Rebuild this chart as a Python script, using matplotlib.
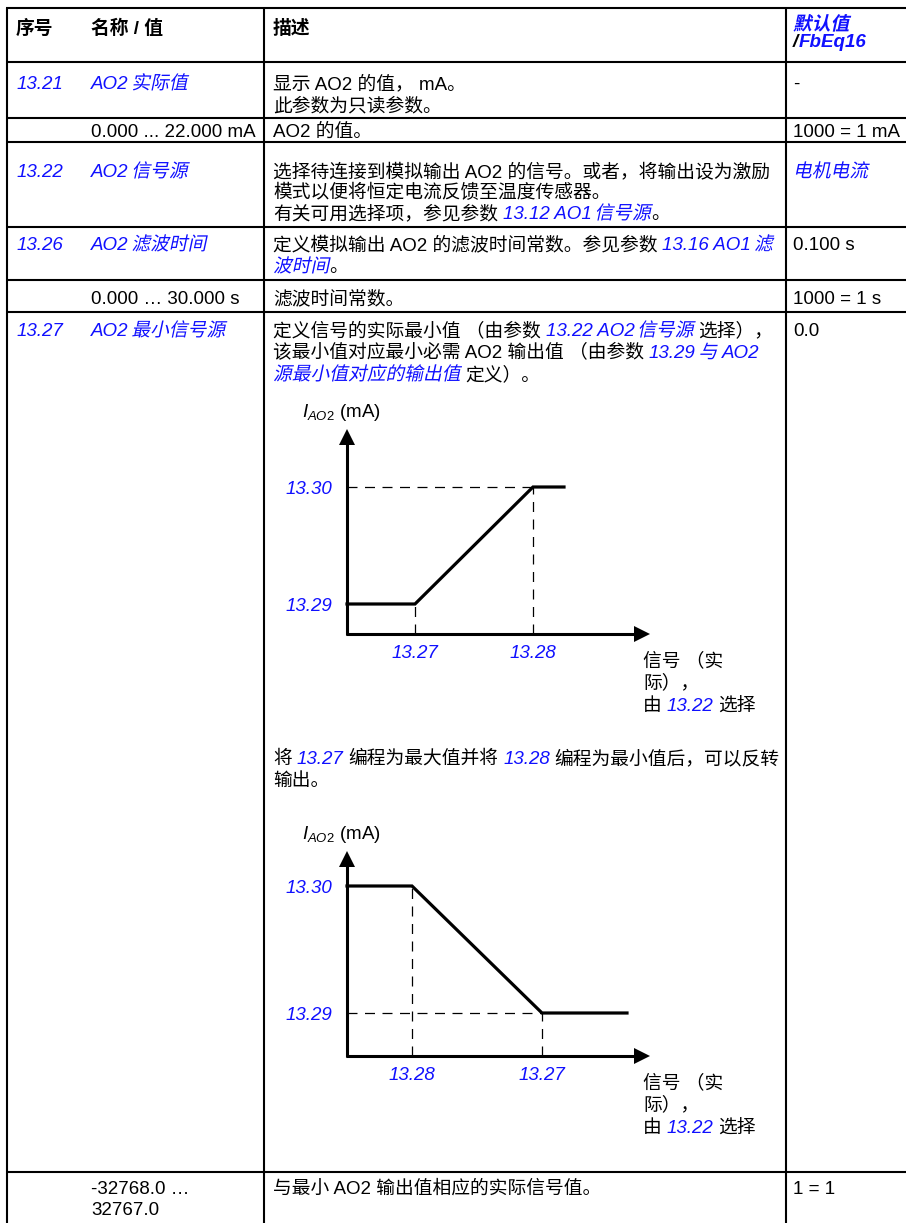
import matplotlib
matplotlib.use('Agg')
import matplotlib.pyplot as plt
import matplotlib.transforms as mtransforms
from matplotlib.textpath import TextPath
from matplotlib.patches import PathPatch
from matplotlib.font_manager import FontProperties

plt.rcParams['font.family'] = ['Liberation Sans', 'Noto Sans CJK SC']
plt.rcParams['mathtext.fontset'] = 'custom'
plt.rcParams['mathtext.rm'] = 'Liberation Sans'
plt.rcParams['mathtext.it'] = 'Liberation Sans:italic'

FS = 13.5
EM = FS * 100 / 72      # em size in px
BLUE = '#1010ff'
SPACE = 0.26 * EM      # width of one space in px

# ---- table content ----
col_headers = ['序号', '名称 / 值', '描述']
default_header = ['默认值', 'FbEq16']

row_ids = ['13.21', '', '13.22', '13.26', '', '13.27', '']
row_names = [[('AO2 实际值', 1)],
             [('0.000 ... 22.000 mA', 0)],
             [('AO2 信号源', 1)],
             [('AO2 滤波时间', 1)],
             [('0.000 … 30.000 s', 0)],
             [('AO2 最小信号源', 1)],
             [('-32768.0 …', 0), ('32767.0', 0)]]
row_defaults = [('-', 0), ('1000 = 1 mA', 0), ('电机电流', 1), ('0.100 s', 0),
                ('1000 = 1 s', 0), ('0.0', 0), ('1 = 1', 0)]
row_desc = [
    [[('显示 AO2 的值， mA。', 0)], [('此参数为只读参数。', 0)]],
    [[('AO2 的值。', 0)]],
    [[('选择待连接到模拟输出 AO2 的信号。或者，将输出设为激励', 0)],
     [('模式以便将恒定电流反馈至温度传感器。', 0)],
     [('有关可用选择项，参见参数 ', 0), ('13.12 AO1 信号源', 1), ('。', 0)]],
    [[('定义模拟输出 AO2 的滤波时间常数。参见参数 ', 0), ('13.16 AO1 滤', 1)],
     [('波时间', 1), ('。', 0)]],
    [[('滤波时间常数。', 0)]],
    [[('定义信号的实际最小值 （由参数 ', 0), ('13.22 AO2 信号源', 1), (' 选择），', 0)],
     [('该最小值对应最小必需 AO2 输出值 （由参数 ', 0), ('13.29 与 AO2', 1)],
     [('源最小值对应的输出值', 1), (' 定义）。', 0)]],
    [[('与最小 AO2 输出值相应的实际信号值。', 0)]],
]
invert_note = [[('将 ', 0), ('13.27', 1), (' 编程为最大值并将 ', 0), ('13.28', 1),
                (' 编程为最小值后，可以反转', 0)],
               [('输出。', 0)]]
axis_note = [[('信号 （实', 0)], [('际），', 0)], [('由 ', 0), ('13.22', 1), (' 选择', 0)]]

# ---- diagram data (schematic units) ----
dia1_sig = [0, 68, 186, 217]
dia1_out = [30, 30, 147, 147]
dia1_xticks = ['13.27', '13.28']
dia1_yticks = ['13.29', '13.30']
dia2_sig = [0, 65, 195, 280]
dia2_out = [170, 170, 43, 43]
dia2_xticks = ['13.28', '13.27']
dia2_yticks = ['13.30', '13.29']

# ---- layout ----
W, H = 906, 1223
fig = plt.figure(figsize=(W / 100, H / 100), dpi=100)
ax = fig.add_axes([0, 0, 1, 1])
ax.set_xlim(0, W)
ax.set_ylim(H, 0)
ax.axis('off')
renderer = fig.canvas.get_renderer()

X_ID, X_NAME, X_DESC, X_DEF = 17, 91, 273, 793
row_lines = [62, 118, 142, 227, 280, 312, 1172]
desc_centers = [[82, 104], [130], [170, 191, 212], [243, 265], [297],
                [329, 351, 373], [1187, 1208]]
BL = 7  # baseline offset below visual center


def is_cjk(c):
    return ord(c) >= 0x2E80


def cjk_italic(x, y, s, color, weight):
    # no italic CJK face installed: shear the glyph outlines instead
    prop = FontProperties(family='Noto Sans CJK SC', weight=weight)
    path = TextPath((0, 0), s, size=EM, prop=prop)
    t = mtransforms.Affine2D().skew_deg(12, 0).scale(1, -1).translate(x, y)
    ax.add_patch(PathPatch(path, facecolor=color, lw=0,
                           transform=t + ax.transData))
    return len(s) * EM


def split_script(s):
    chunks = []
    for c in s:
        k = is_cjk(c)
        if chunks and chunks[-1][1] == k:
            chunks[-1][0] += c
        else:
            chunks.append([c, k])
    return chunks


def draw_runs(x, y, parts, transform=None, size=FS, weight='normal', force_italic=False):
    tr = transform if transform is not None else ax.transData
    for txt, link in parts:
        color = BLUE if link else 'k'
        italic = bool(link or force_italic)
        pieces = split_script(txt) if (italic and transform is None) else [[txt, False]]
        for j, (body, cjk) in enumerate(pieces):
            if cjk:
                if j > 0:
                    x -= 2
                x += cjk_italic(x, y, body, color, weight)
                continue
            lead = len(body) - len(body.lstrip(' '))
            trail = len(body) - len(body.rstrip(' '))
            x += lead * SPACE
            core = body.strip(' ')
            if core:
                t = ax.text(x, y, core, fontsize=size, va='baseline', ha='left',
                            color=color, style='italic' if italic else 'normal',
                            fontweight=weight, transform=tr)
                x += t.get_window_extent(renderer=renderer).width
            x += trail * SPACE
    return x


# table frame
lw = 1.5
ax.plot([7, 7], [8, H], color='k', lw=lw, solid_capstyle='butt')
for xc in [264, 786]:
    ax.plot([xc, xc], [8, H], color='k', lw=lw, solid_capstyle='butt')
for yr in [8] + row_lines:
    ax.plot([6, W], [yr, yr], color='k', lw=lw, solid_capstyle='butt')

# header
for xh, h in zip([16, X_NAME, X_DESC], col_headers):
    ax.text(xh, 27 + BL, h, fontsize=FS, fontweight='bold', va='baseline')
draw_runs(X_DEF, 23 + BL, [(default_header[0], 1)], weight='bold')
xx = draw_runs(X_DEF, 41 + 6, [('/', 0)], weight='bold', force_italic=True)
draw_runs(xx, 41 + 6, [(default_header[1], 1)], weight='bold')

# rows
for i in range(len(row_ids)):
    cs = desc_centers[i]
    if row_ids[i]:
        draw_runs(X_ID, cs[0] + BL, [(row_ids[i], 1)])
    for k, part in enumerate(row_names[i]):
        draw_runs(X_NAME, cs[k] + BL, [part])
    draw_runs(X_DEF, cs[0] + BL, [row_defaults[i]])
    for k, line in enumerate(row_desc[i]):
        draw_runs(X_DESC, cs[k] + BL, line)

for k, line in enumerate(invert_note):
    draw_runs(X_DESC, [757, 779][k] + BL, line)


def draw_diagram(ox, oy, sig, out, xticks, yticks, dashes):
    tr = mtransforms.Affine2D().scale(1, -1).translate(ox, oy) + ax.transData
    # dashed guides
    for (xa, ya), (xb, yb) in dashes:
        ax.plot([xa, xb], [ya, yb], color='k', lw=0.9, ls=(0, (8, 6)), transform=tr)
    # axes with arrowheads
    ax.plot([0, 0], [-1, 190], color='k', lw=2.2, transform=tr, solid_capstyle='butt')
    ax.plot([-1, 288], [0, 0], color='k', lw=2.2, transform=tr, solid_capstyle='butt')
    ax.fill([-8, 8, 0], [189, 189, 205], color='k', transform=tr, lw=0)
    ax.fill([287, 287, 303], [-8, 8, 0], color='k', transform=tr, lw=0)
    # transfer curve
    ax.plot(sig, out, color='k', lw=2.3, transform=tr, solid_joinstyle='miter')
    # tick labels
    for xv, lab in zip(sig[1:3], xticks):
        ax.text(xv, -17 - BL, lab, fontsize=FS, style='italic', color=BLUE,
                ha='center', va='baseline', transform=tr)
    for yv, lab in zip([out[0], out[2]], yticks):
        ax.text(-15, yv - BL, lab, fontsize=FS, style='italic', color=BLUE,
                ha='right', va='baseline', transform=tr)
    ax.text(-45, 224 - BL, r'$I_{AO2}$ (mA)', fontsize=FS, va='baseline',
            ha='left', transform=tr)
    for k, line in enumerate(axis_note):
        draw_runs(296, [-25, -47, -70][k] - BL, line, transform=tr)


draw_diagram(347, 634, dia1_sig, dia1_out, dia1_xticks, dia1_yticks,
             [((0, dia1_out[2]), (dia1_sig[2], dia1_out[2])),
              ((dia1_sig[2], 0), (dia1_sig[2], dia1_out[2])),
              ((dia1_sig[1], 0), (dia1_sig[1], dia1_out[1]))])
draw_diagram(347, 1056, dia2_sig, dia2_out, dia2_xticks, dia2_yticks,
             [((dia2_sig[1], 0), (dia2_sig[1], dia2_out[1])),
              ((0, dia2_out[2]), (dia2_sig[2], dia2_out[2])),
              ((dia2_sig[2], 0), (dia2_sig[2], dia2_out[2]))])

fig.savefig('out.png', dpi=100)
